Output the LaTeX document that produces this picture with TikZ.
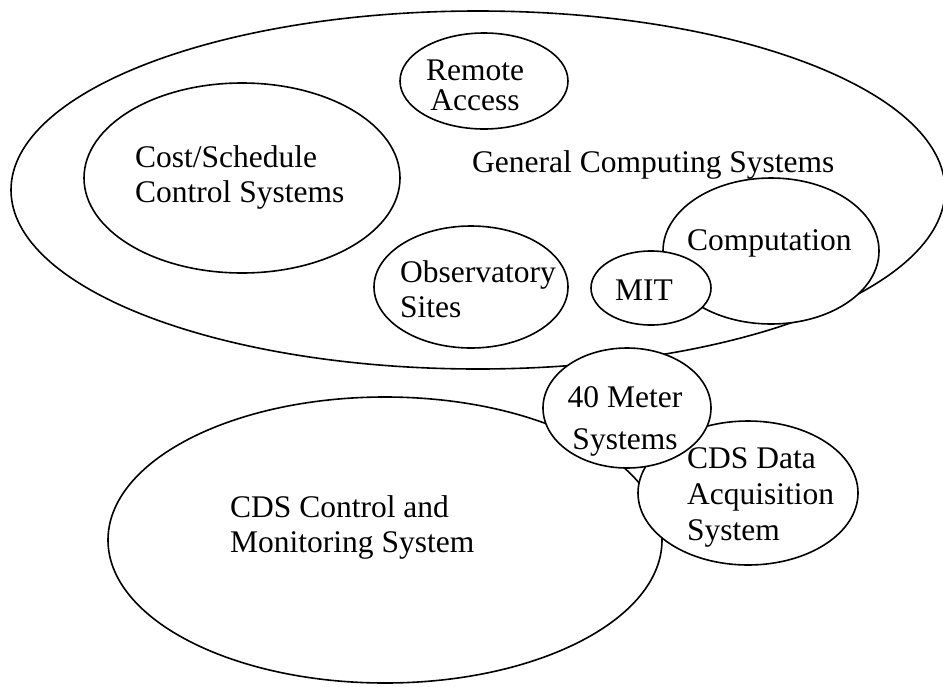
\documentclass[tikz,border=0pt]{standalone}
\usepackage{fontspec}
\setmainfont{Liberation Serif}
\usetikzlibrary{shapes.geometric}
\tikzset{
  bubble/.style={draw, ellipse, fill=white, line width=1.6pt, inner sep=0pt},
  lbl/.style={font=\fontsize{31.5}{35}\selectfont, inner sep=0pt}
}
\newcommand{\drawbubble}[5]{
  \node[bubble, minimum width=#4pt, minimum height=#5pt] (#1) at (#2,#3) {};
}
\newcommand{\drawlabel}[6]{
  \foreach \t [count=\i from 0] in {#6}{
    \node[lbl, anchor=#2] (#1-\i) at (#3, #4+\i*#5) {\t};
  }
}

\begin{document}
\begin{tikzpicture}[x=1pt, y=-1pt]
  \useasboundingbox (0,0) rectangle (943,686);

  % general computing systems and what sits in it
  \drawbubble{gcs}{478}{190}{934}{358}
  \drawbubble{remote}{484}{81}{168}{96}
  \drawbubble{cost}{242}{178}{316}{190}
  \drawbubble{obs}{471}{287}{194}{122}
  \drawbubble{comp}{771}{251}{216}{146}
  \drawbubble{mit}{651}{288}{120}{74}

  % CDS side
  \drawbubble{cds}{385}{540}{554}{286}
  \drawbubble{daq}{748}{493}{220}{144}
  \drawbubble{meter}{627}{408}{168}{120}

  \drawlabel{gcs}{base west}{472}{172}{35}{General Computing Systems}
  \drawlabel{remote}{base}{475}{80}{30}{Remote, Access}
  \drawlabel{cost}{base west}{135}{167}{35}{Cost/Schedule, Control Systems}
  \drawlabel{obs}{base west}{400}{282}{35}{Observatory, Sites}
  \drawlabel{comp}{base west}{687}{250}{35}{Computation}
  \drawlabel{mit}{base west}{615}{300}{35}{MIT}
  \drawlabel{cds}{base west}{230}{517}{35}{CDS Control and, Monitoring System}
  \drawlabel{daq}{base west}{687}{468}{36}{CDS Data, Acquisition, System}
  \drawlabel{meter}{base}{625}{407}{42}{40 Meter, Systems}
\end{tikzpicture}
\end{document}
